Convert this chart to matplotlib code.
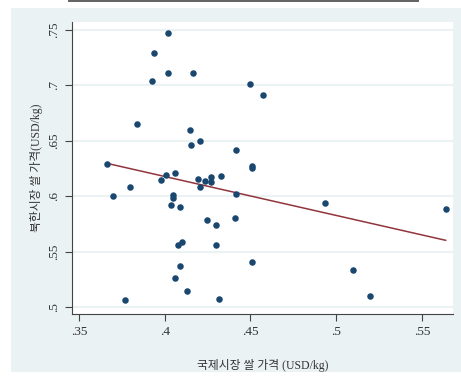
import numpy as np
import matplotlib
matplotlib.use("Agg")
from matplotlib import pyplot as plt

# world rice price vs north korea market rice price (USD/kg)
intl_price = [0.4017, 0.3939, 0.4019, 0.4167, 0.3928, 0.4495, 0.4575, 0.3836,
              0.4147, 0.4207, 0.4155, 0.4416, 0.4507, 0.4507, 0.3666, 0.4007,
              0.4060, 0.3978, 0.3797, 0.3696, 0.4046, 0.4046, 0.4038, 0.4087,
              0.4196, 0.4207, 0.4237, 0.4268, 0.4268, 0.4328, 0.4416, 0.4248,
              0.4297, 0.4408, 0.4099, 0.4079, 0.4297, 0.4507, 0.4087, 0.4058,
              0.4128, 0.3768, 0.4316, 0.4936, 0.5638, 0.5098, 0.5197]
nk_price = [0.7476, 0.7292, 0.7110, 0.7110, 0.7043, 0.7013, 0.6916, 0.6652,
            0.6597, 0.6501, 0.6459, 0.6417, 0.6275, 0.6257, 0.6292, 0.6189,
            0.6207, 0.6144, 0.6086, 0.5999, 0.6008, 0.5986, 0.5924, 0.5906,
            0.6155, 0.6086, 0.6137, 0.6176, 0.6125, 0.6182, 0.6020, 0.5789,
            0.5744, 0.5807, 0.5590, 0.5560, 0.5557, 0.5409, 0.5367, 0.5259,
            0.5142, 0.5060, 0.5069, 0.5936, 0.5885, 0.5334, 0.5099]

xticks = [0.35, 0.4, 0.45, 0.5, 0.55]
xtick_labels = [".35", ".4", ".45", ".5", ".55"]
yticks = [0.5, 0.55, 0.6, 0.65, 0.7, 0.75]
ytick_labels = [".5", ".55", ".6", ".65", ".7", ".75"]

bg = "#EAF2F3"
serif = ["Liberation Serif", "DejaVu Serif"]
# latin part in serif, hangul falls back to noto
kr = ["Liberation Serif", "Noto Sans CJK KR"]

fig = plt.figure(figsize=(4.61, 3.81), dpi=100, facecolor="white")
W, H = 461, 381

# stata style outer panel + top border line
back = fig.add_axes([11 / W, 1 - 372 / H, 450 / W, 364 / H], zorder=-1)
back.axis("off")
back.add_patch(plt.Rectangle((0, 0), 1, 1, color=bg, transform=back.transAxes))
top = fig.add_axes([68 / W, 1 - 2 / H, 351 / W, 2 / H], zorder=-1)
top.axis("off")
top.add_patch(plt.Rectangle((0, 0), 1, 1, color="#666666", transform=top.transAxes))

ax = fig.add_axes([72 / W, 1 - 314 / H, 381 / W, 292 / H], zorder=1)
ax.set_facecolor("white")

x = np.array(intl_price)
y = np.array(nk_price)
ax.scatter(x, y, s=22, color="#1A476F", zorder=3, linewidths=0)

b, a = np.polyfit(x, y, 1)
xs = np.array([x.min(), x.max()])
ax.plot(xs, a + b * xs, color="#90353B", lw=1.1, zorder=2)

ax.set_xlim(0.3459, 0.5681)
ax.set_ylim(0.4937, 0.7572)
ax.set_xticks(xticks)
ax.set_xticklabels(xtick_labels, fontfamily=serif, fontsize=9.5)
ax.set_yticks(yticks)
ax.set_yticklabels(ytick_labels, fontfamily=serif, fontsize=9.5,
                   rotation=90, va="center")
ax.tick_params(length=5, width=0.8, color="#444444", labelcolor="#333333")
ax.grid(axis="y", color=bg, lw=1.5)
ax.set_axisbelow(True)
for s in ["top", "right"]:
    ax.spines[s].set_visible(False)
for s in ["left", "bottom"]:
    ax.spines[s].set_color("#444444")
    ax.spines[s].set_linewidth(0.8)

ax.set_xlabel("국제시장 쌀 가격 (USD/kg)", family=kr, fontsize=8.5,
              color="#333333", labelpad=15)
ax.set_ylabel("북한시장 쌀 가격(USD/kg)", family=kr, fontsize=8.5,
              color="#333333", labelpad=4)

fig.savefig("out.png", dpi=100)
